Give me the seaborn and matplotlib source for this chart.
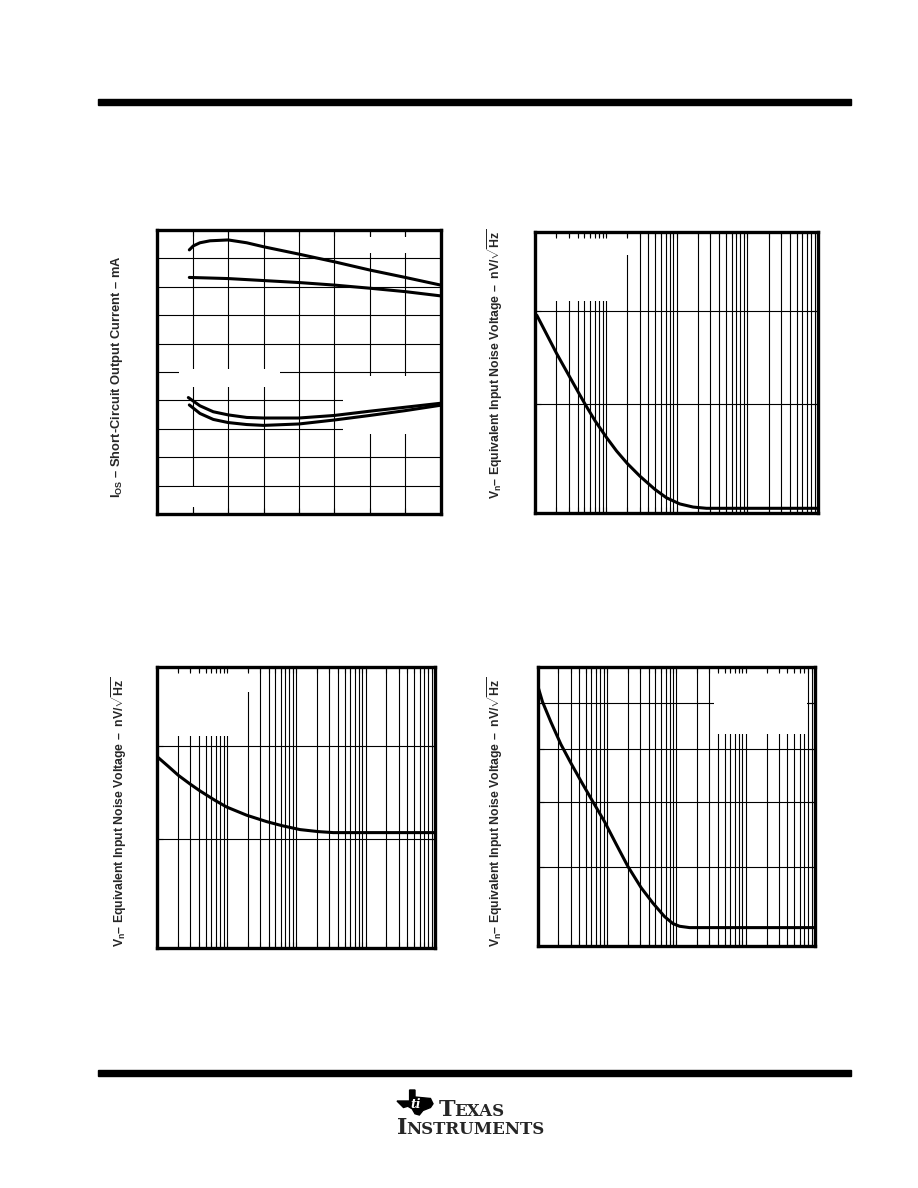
import matplotlib
matplotlib.use('Agg')
import matplotlib.pyplot as plt
import seaborn as sns
from matplotlib.patches import Rectangle, Polygon
from matplotlib.ticker import NullLocator

# ---- data ----
# top-left: short-circuit output current (mA) vs free-air temperature (C)
temp_a = [-52.4, -49.6, -44.9, -37.8, -25, -11.9, 0, 25, 50, 75, 100, 125]
ios_a = [43.0, 44.4, 45.5, 46.2, 46.5, 45.5, 44.1, 41.5, 38.8, 35.9, 33.3, 30.6]
temp_b = [-52.4, -25, 0, 25, 50, 75, 100, 125]
ios_b = [33.3, 32.9, 32.2, 31.5, 30.6, 29.5, 28.3, 26.8]
temp_c = [-53.1, -44.9, -35.5, -25, -11.9, 0, 25, 50, 75, 100, 125]
ios_c = [-9.0, -11.9, -14.0, -15.1, -16.0, -16.2, -16.2, -15.3, -13.8, -12.4, -11.0]
temp_d = [-52.4, -44.9, -35.5, -25, -11.9, 0, 25, 50, 75, 100, 125]
ios_d = [-11.6, -14.6, -16.7, -17.8, -18.5, -18.8, -18.3, -16.9, -15.3, -13.6, -11.7]
temp_grid = [-50, -25, 0, 25, 50, 75, 100]
ios_grid = [-40, -30, -20, -10, 0, 10, 20, 30, 40]

# noise plots: frequency in Hz, noise in nV/sqrt(Hz)
decades = [10, 100, 1000, 10000]
multipliers = [2, 3, 4, 5, 6, 7, 8, 9]
freq_major = [100, 1000, 10000]

freq_tr = [10.6, 20.2, 30.5, 41.4, 51.3, 71.0, 103, 142, 201, 304, 493, 721, 1114, 1718, 2650, 100000]
vn_tr = [59.5, 55.2, 52.8, 51.1, 49.95, 48.35, 46.8, 45.6, 44.5, 43.4, 42.3, 41.6, 41.1, 40.85, 40.75, 40.75]

freq_bl = [10.3, 14.4, 20.1, 29.6, 41.2, 67.7, 99.7, 194, 376, 618, 1136, 2086, 3430, 100000]
vn_bl = [58.6, 57.6, 56.6, 55.65, 54.9, 53.9, 53.2, 52.35, 51.7, 51.3, 50.9, 50.7, 50.6, 50.6]

freq_br = [10.3, 11.8, 15.6, 21.7, 30.3, 42.3, 62.4, 92.0, 136, 200, 312, 460, 678, 895, 1117, 1559, 100000]
vn_br = [73.8, 70.4, 65.7, 60.9, 57.1, 53.7, 50.1, 46.8, 43.3, 40.15, 37.3, 35.4, 33.8, 33.0, 32.7, 32.55, 32.55]

vn_grid_top = [50, 60]
vn_grid_br = [40, 50, 60, 70]

label_ios = r'$\mathbf{I_{OS}}$ – Short-Circuit Output Current – mA'
label_vn = r'$\mathbf{V_n}$– Equivalent Input Noise Voltage –  nV/$\sqrt{\mathbf{Hz}}$'

# ---- style ----
sns.set_style('white')
plt.rcParams['font.family'] = ['Liberation Sans', 'DejaVu Sans']
plt.rcParams['mathtext.fontset'] = 'custom'
plt.rcParams['mathtext.rm'] = 'Liberation Sans'
plt.rcParams['mathtext.it'] = 'Liberation Sans:italic'
plt.rcParams['mathtext.bf'] = 'Liberation Sans:bold'

W, H = 918, 1188
fig = plt.figure(figsize=(W / 100, H / 100), dpi=100)


def box(left, top, right, bottom):
    # pixel box on the page -> figure fraction rectangle
    return [left / W, 1 - bottom / H, (right - left) / W, (bottom - top) / H]


def setup(ax, xs, ys, minors=None):
    ax.set_axisbelow(False)
    for v in xs:
        ax.axvline(v, color='black', lw=0.8, zorder=1)
    for v in ys:
        ax.axhline(v, color='black', lw=0.8, zorder=1)
    if minors is not None:
        for v in minors:
            ax.axvline(v, color='black', lw=0.8, zorder=1)
        ax.set_xticks(minors, minor=True)
    ax.set_xticks(xs)
    ax.set_yticks(ys)
    ax.yaxis.set_minor_locator(NullLocator())
    ax.tick_params(which='both', direction='in', length=4, width=0.8, color='black',
                   top=True, right=True, bottom=True, left=True,
                   labelbottom=False, labelleft=False)
    for s in ax.spines.values():
        s.set_linewidth(2.4)
        s.set_color('black')
        s.set_zorder(4)
    ax.set_xlabel('')
    ax.set_ylabel('')


def blank(ax, x0, y0, x1, y1):
    ax.add_patch(Rectangle((x0, y0), x1 - x0, y1 - y0, transform=ax.transAxes,
                           facecolor='white', edgecolor='none', zorder=1.6))


def curve(ax, x, y):
    sns.lineplot(x=x, y=y, ax=ax, color='black', lw=2.2, estimator=None, sort=False, zorder=3)


# ---- top left ----
ax1 = fig.add_axes(box(157.3, 230, 440.7, 514))
ax1.set_xlim(-75, 125)
ax1.set_ylim(-50, 50)
setup(ax1, temp_grid, ios_grid)
ax1.tick_params(which='both', left=False, right=False)
blank(ax1, 0.077, 0.447, 0.433, 0.511)
blank(ax1, 0.656, 0.280, 1.0, 0.486)
blank(ax1, 0.080, 0.025, 0.186, 0.095)
blank(ax1, 0.68, 0.919, 0.973, 0.975)
for xs, ys in [(temp_a, ios_a), (temp_b, ios_b), (temp_c, ios_c), (temp_d, ios_d)]:
    curve(ax1, xs, ys)
ax1.set_xlim(-75, 125)
ax1.set_ylim(-50, 50)
fig.text(117 / W, 1 - 377 / H, label_ios, rotation=90, ha='center', va='center',
         fontsize=9.3, fontweight='bold')

# ---- noise plots ----
minor_freqs = [m * d for d in decades for m in multipliers]
noise = [
    (box(535, 232.3, 818, 512.7), freq_tr, vn_tr, (40.4, 70), vn_grid_top, (495, 229)),
    (box(157.3, 666.7, 435, 947.7), freq_bl, vn_bl, (40.4, 70), vn_grid_top, (119, 677)),
    (box(537.5, 667.3, 815, 945.7), freq_br, vn_br, (30.6, 79.2), vn_grid_br, (495, 677)),
]
axes = []
for rect, fx, fy, ylim, ygrid, (lx, ly) in noise:
    ax = fig.add_axes(rect)
    ax.set_xscale('log')
    ax.set_yscale('log')
    ax.set_xlim(10, 100000)
    ax.set_ylim(*ylim)
    setup(ax, freq_major, ygrid, minors=minor_freqs)
    curve(ax, fx, fy)
    ax.set_xlim(10, 100000)
    ax.set_ylim(*ylim)
    fig.text(lx / W, 1 - ly / H, label_vn, rotation=90, ha='center', va='top',
             fontsize=8.8, fontweight='bold')
    axes.append(ax)

ax2, ax3, ax4 = axes
# areas where the original annotations were removed
blank(ax2, 0.0, 0.755, 0.32, 0.982)
blank(ax2, 0.30, 0.92, 0.355, 0.982)
blank(ax3, 0.0, 0.755, 0.30, 0.982)
blank(ax3, 0.30, 0.91, 0.345, 0.982)
blank(ax4, 0.635, 0.762, 0.97, 0.982)

# ---- page furniture ----
fig.add_artist(Rectangle((98 / W, 1 - 105 / H), (851 - 98) / W, 6 / H,
                         transform=fig.transFigure, color='black'))
fig.add_artist(Rectangle((98 / W, 1 - 1076 / H), (851 - 98) / W, 6 / H,
                         transform=fig.transFigure, color='black'))

# Texas outline for the logo, unit box mapped onto the page
tx = [0.35, 0.5, 0.5, 0.93, 1.0, 0.93, 0.72, 0.62, 0.5, 0.42, 0.3, 0.18, 0.0, 0.35]
ty = [1.0, 1.0, 0.72, 0.66, 0.45, 0.30, 0.18, 0.0, 0.05, 0.25, 0.35, 0.30, 0.56, 0.56]
logo = [((397 + u * 36) / W, 1 - (1115 - v * 25) / H) for u, v in zip(tx, ty)]
fig.add_artist(Polygon(logo, closed=True, transform=fig.transFigure, color='black'))
fig.text(416 / W, 1 - 1104 / H, 'ti', color='white', fontsize=9, fontweight='bold',
         fontstyle='italic', ha='center', va='center', family='DejaVu Serif')

serif = dict(family='DejaVu Serif', fontweight='bold', va='baseline')
fig.text(439 / W, 1 - 1116 / H, 'T', fontsize=16, **serif)
fig.text(454 / W, 1 - 1116 / H, 'EXAS', fontsize=12, **serif)
fig.text(397 / W, 1 - 1134 / H, 'I', fontsize=16, **serif)
fig.text(406 / W, 1 - 1134 / H, 'NSTRUMENTS', fontsize=12, **serif)

fig.savefig('out.png', dpi=100)
